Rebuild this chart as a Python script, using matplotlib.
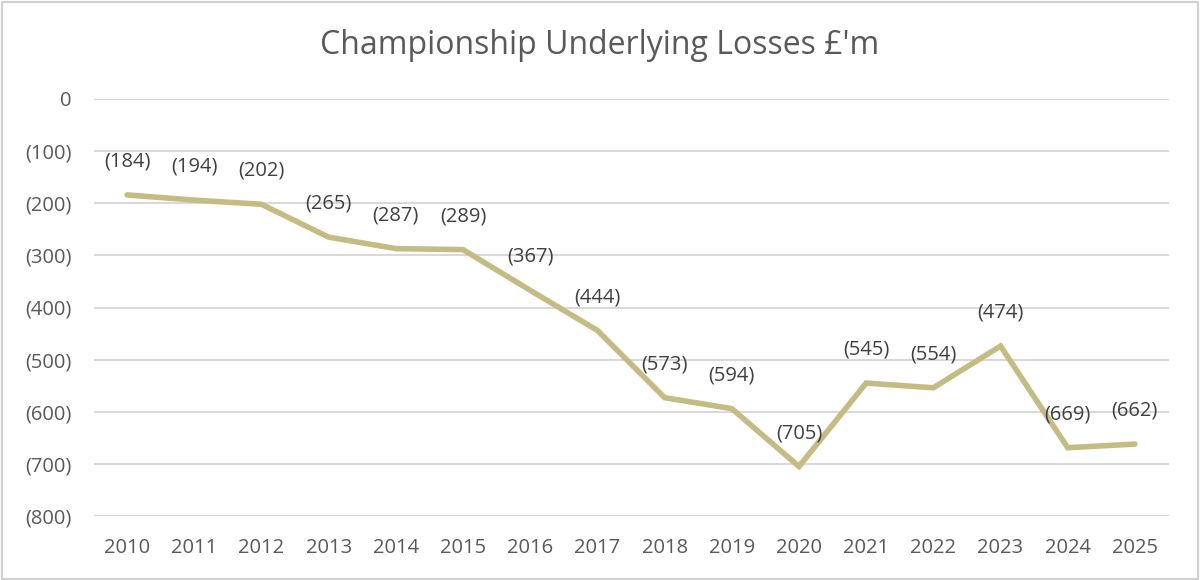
import matplotlib
matplotlib.use("Agg")
import matplotlib.pyplot as plt
from matplotlib.patches import Rectangle

plt.rcParams["font.family"] = ["Open Sans", "DejaVu Sans"]

years = [2010, 2011, 2012, 2013, 2014, 2015, 2016, 2017,
         2018, 2019, 2020, 2021, 2022, 2023, 2024, 2025]
losses = [-184, -194, -202, -265, -287, -289, -367, -444,
          -573, -594, -705, -545, -554, -474, -669, -662]
y_ticks = [0, -100, -200, -300, -400, -500, -600, -700, -800]

TEXT = "#595959"
LABEL = "#404040"
LINE = "#C4BC82"
GRID = "#D9D9D9"

fig = plt.figure(figsize=(12, 5.8), dpi=100)
fig.patches.append(Rectangle((0.002, 0.002), 0.996, 0.995, transform=fig.transFigure,
                             fill=False, edgecolor="#D0D0D0", lw=1.5))
ax = fig.add_axes([93.5 / 1200, 1 - 516 / 580, (1168.5 - 93.5) / 1200, (516 - 99) / 580])

x = list(range(len(years)))
ax.plot(x, losses, color=LINE, lw=4, solid_joinstyle="miter", solid_capstyle="round", zorder=3)
for xi, v in zip(x, losses):
    ax.annotate(f"({-v})", (xi, v), xytext=(0, 24), textcoords="offset points",
                ha="center", va="center", fontsize=14.5, color=LABEL, zorder=4)

ax.set_xlim(-0.5, len(years) - 0.5)
ax.set_ylim(-800, 0)
ax.set_yticks(y_ticks)
ax.set_yticklabels(["0" if t == 0 else f"({-t})" for t in y_ticks])
ax.set_xticks(x)
ax.set_xticklabels([str(y) for y in years])
ax.tick_params(length=0, labelsize=14.5, labelcolor=TEXT)
ax.tick_params(axis="y", pad=16)
ax.tick_params(axis="x", pad=16)
ax.grid(axis="y", color=GRID, lw=1.5)
ax.set_axisbelow(True)
for s in ax.spines.values():
    s.set_visible(False)

fig.text(0.5, 1 - 45 / 580, "Championship Underlying Losses £'m", ha="center", va="center",
         fontsize=23, color=TEXT)

fig.savefig("out.png", dpi=100, facecolor="white")
